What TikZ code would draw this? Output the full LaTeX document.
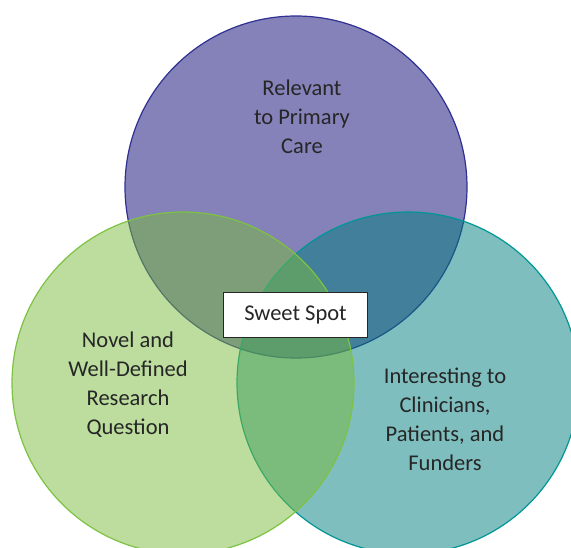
\documentclass[tikz,border=0pt]{standalone}
\usepackage{fontspec}
\setmainfont{Carlito}
\usepackage{tikz}
\usetikzlibrary{positioning}
\definecolor{topfill}{RGB}{11,5,117}
\definecolor{topline}{RGB}{46,49,146}
\definecolor{leftfill}{RGB}{121,187,59}
\definecolor{leftline}{RGB}{125,194,66}
\definecolor{rightfill}{RGB}{0,125,125}
\definecolor{rightline}{RGB}{0,150,150}
\definecolor{textgray}{RGB}{38,38,38}
\tikzstyle{venn} = [circle, minimum size=342pt, inner sep=0pt, line width=1.2pt, fill opacity=0.5]
\tikzstyle{settext} = [font=\fontsize{22.5}{29}\selectfont, align=center, text=textgray]
\tikzstyle{spot} = [rectangle, draw=textgray, fill=white, line width=1.8pt, minimum width=144pt, minimum height=45pt, font=\fontsize{22.5}{26}\selectfont, text=textgray]

\begin{document}
\begin{tikzpicture}[x=1pt,y=-1pt]
  \useasboundingbox (0,0) rectangle (571,548);
  \clip (0,0) rectangle (571,548);
  \node (primary) [venn, draw=topline, fill=topfill] at (296,187) {};
  \node (interest) [venn, draw=rightline, fill=rightfill] at (408,383) {};
  \node (novel) [venn, draw=leftline, fill=leftfill] at (183,383) {};
  \node (primarytext) [settext] at (302,117) {Relevant\\to Primary\\Care};
  \node (noveltext) [settext] at (128,385) {Novel and\\Well-Defined\\Research\\Question};
  \node (interesttext) [settext] at (445,419) {Interesting to\\Clinicians,\\Patients, and\\Funders};
  \node (sweet) [spot] at (295.5,315) {Sweet Spot};
\end{tikzpicture}
\end{document}
